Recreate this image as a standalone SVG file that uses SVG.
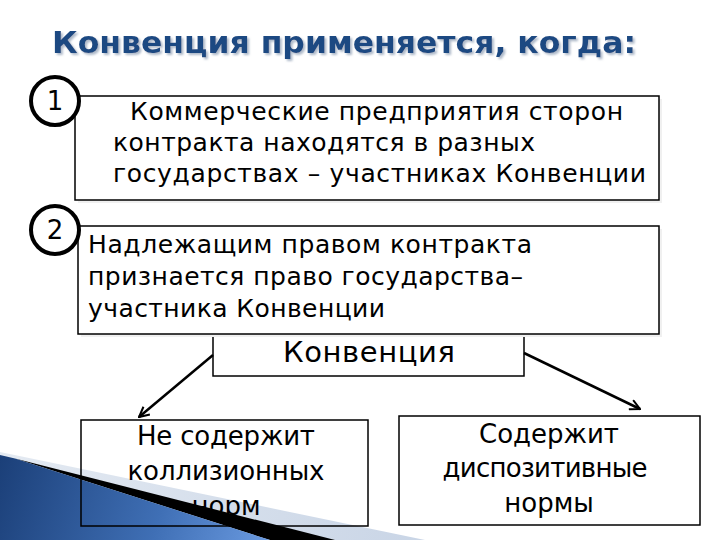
<svg xmlns="http://www.w3.org/2000/svg" width="720" height="540" viewBox="0 0 720 540">
<defs>
<linearGradient id="blueGrad" x1="0" y1="455" x2="270" y2="540" gradientUnits="userSpaceOnUse">
<stop offset="0" stop-color="#1b3f78"/>
<stop offset="0.6" stop-color="#3f6fb5"/>
<stop offset="1" stop-color="#6a9ae0"/>
</linearGradient>
<linearGradient id="lightGrad" x1="0" y1="452" x2="425" y2="540" gradientUnits="userSpaceOnUse">
<stop offset="0" stop-color="#e4eaf2"/>
<stop offset="1" stop-color="#c9d5e6"/>
</linearGradient>
<filter id="tshadow" x="-5%" y="-30%" width="110%" height="160%">
<feDropShadow dx="2" dy="2" stdDeviation="1" flood-color="#9aa8bc" flood-opacity="0.8"/>
</filter>
<marker id="arrow" viewBox="0 0 12 12" refX="11" refY="6" markerWidth="12" markerHeight="12" markerUnits="userSpaceOnUse" orient="auto">
<path d="M1,1 L11,6 L1,11" fill="none" stroke="#000" stroke-width="2"/>
</marker>
<style>
.box{fill:#fff;stroke:#000;stroke-width:1.5}
.shadow{fill:#f0f0f0}
.txt{font-family:"DejaVu Sans","Verdana",sans-serif;font-size:25px;fill:#000}
.ctr{text-anchor:middle;font-size:26px}
.circ{fill:#fff;stroke:#000;stroke-width:4}
.num{font-family:"DejaVu Sans",sans-serif;font-size:26px;text-anchor:middle;fill:#000}
.conn{stroke:#000;stroke-width:2.5;fill:none}
.title{font-family:"DejaVu Sans Condensed","DejaVu Sans",sans-serif;font-weight:bold;font-size:31px}
</style>
</defs>
<rect width="720" height="540" fill="#fff"/>

<g id="decor">
<polygon points="0,452 425,540 0,540" fill="url(#lightGrad)"/>
<polygon points="15,458.5 335,540 270,540" fill="#000"/>
<polygon points="0,455 15,458.5 270,540 0,540" fill="url(#blueGrad)"/>
</g>

<g id="title">
<text x="52" y="53" class="title" fill="#1f4a82" filter="url(#tshadow)" textLength="584" lengthAdjust="spacingAndGlyphs">Конвенция применяется, когда:</text>
</g>

<g id="node-konv">
<rect x="213" y="300" width="311" height="76" class="box"/>
<text x="369" y="362" class="txt" style="font-size:29px" text-anchor="middle" textLength="172">Конвенция</text>
</g>

<g id="node-cond1">
<rect x="78" y="99" width="584" height="104" class="shadow"/>
<rect x="75" y="96" width="584" height="104" class="box"/>
<text x="130" y="120" class="txt" textLength="493">Коммерческие предприятия сторон</text>
<text x="113" y="151" class="txt" textLength="422">контракта находятся в разных</text>
<text x="113" y="182" class="txt" textLength="533">государствах – участниках Конвенции</text>
</g>

<g id="node-cond2">
<rect x="81" y="229" width="581" height="108" class="shadow"/>
<rect x="78" y="226" width="581" height="108" class="box"/>
<text x="88" y="253" class="txt" textLength="444">Надлежащим правом контракта</text>
<text x="88" y="285" class="txt" textLength="435">признается право государства–</text>
<text x="88" y="317" class="txt" textLength="297">участника Конвенции</text>
</g>

<g id="badge-1">
<circle cx="55" cy="101" r="24" class="circ"/>
<text x="55" y="110" class="num">1</text>
</g>
<g id="badge-2">
<circle cx="55" cy="230" r="24" class="circ"/>
<text x="55" y="239" class="num">2</text>
</g>

<g id="connectors">
<line x1="213" y1="355" x2="139" y2="417" class="conn" marker-end="url(#arrow)"/>
<line x1="524" y1="353" x2="640" y2="409" class="conn" marker-end="url(#arrow)"/>
</g>

<g id="node-no">
<rect x="81" y="420" width="287" height="106" fill="none" stroke="#000" stroke-width="1.5"/>
<text x="226" y="445" class="txt ctr" textLength="178">Не содержит</text>
<text x="226" y="480" class="txt ctr" textLength="197">коллизионных</text>
<text x="226" y="515" class="txt ctr">норм</text>
</g>

<g id="node-yes">
<rect x="399" y="416" width="301" height="109" class="box"/>
<text x="549" y="443" class="txt ctr" textLength="140">Содержит</text>
<text x="545" y="477" class="txt ctr" textLength="205">диспозитивные</text>
<text x="549" y="512" class="txt ctr">нормы</text>
</g>
</svg>
